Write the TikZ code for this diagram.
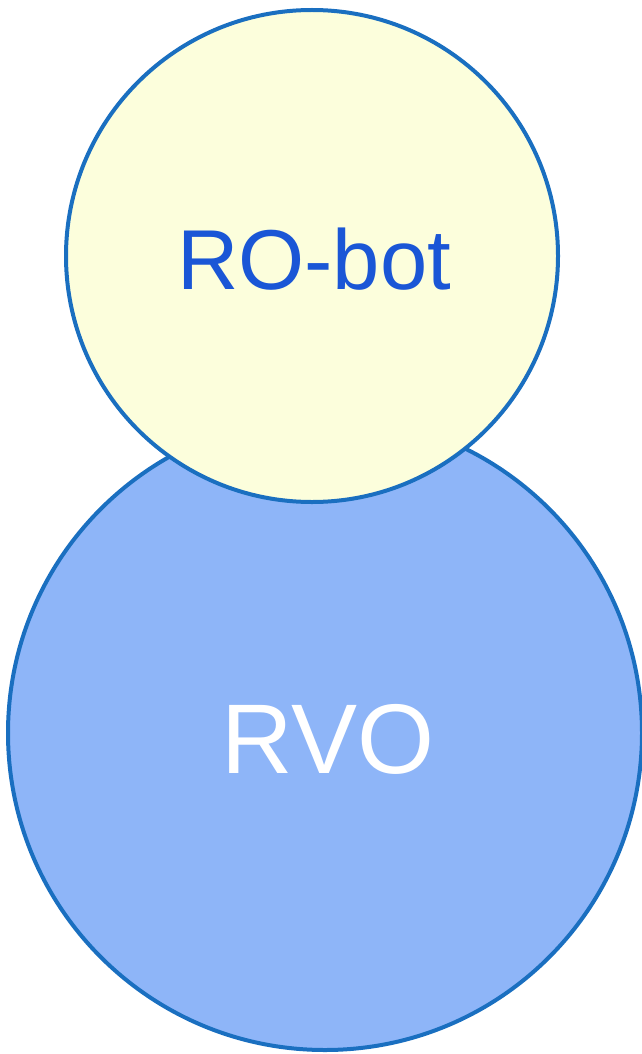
\documentclass[tikz,border=0pt]{standalone}
\usepackage{fontspec}
\setmainfont{Liberation Sans}
\definecolor{edgeblue}{HTML}{1A6FC0}
\definecolor{bigfill}{HTML}{8EB5F8}
\definecolor{smallfill}{HTML}{FCFEDC}
\definecolor{textblue}{HTML}{1A56D6}
\begin{document}
\begin{tikzpicture}[x=1pt,y=-1pt,
  ball/.style={circle,draw=edgeblue,line width=4pt,inner sep=0pt}]
\useasboundingbox (0,0) rectangle (642,1054);
\node[ball,fill=bigfill,minimum size=634pt] (rvo) at (325,733) {};
\node[ball,fill=smallfill,minimum size=492pt] (robot) at (312,256) {};
\node[text=white,font=\fontsize{99}{110}\selectfont] (rvolabel) at (328,739) {RVO};
\node[text=textblue,font=\fontsize{85}{100}\selectfont] (robotlabel) at (314,259) {RO-bot};
\end{tikzpicture}
\end{document}
